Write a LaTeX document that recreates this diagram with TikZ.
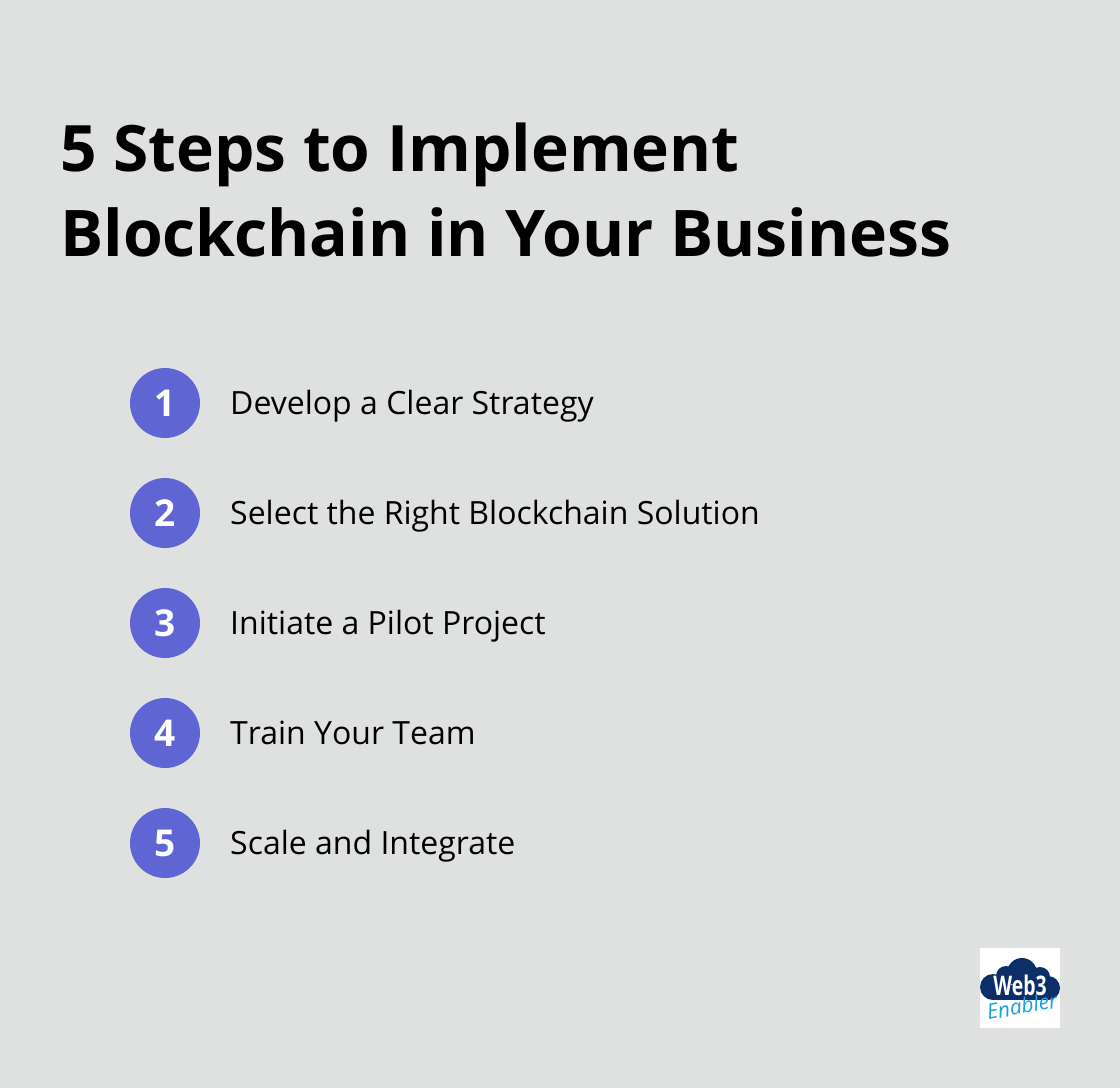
\documentclass[tikz,border=0pt]{standalone}
\usepackage{fontspec}
\setmainfont{Open Sans}
\definecolor{bgc}{HTML}{DFE1E0}
\definecolor{disc}{HTML}{5F65D3}
\definecolor{logonavy}{HTML}{0B2F66}
\definecolor{logoblue}{HTML}{1AA0DC}
\tikzset{
 px/.style={x=1pt,y=-1pt},
 title/.style={anchor=base west,inner sep=0pt,font=\fontsize{64.3}{64}\selectfont\bfseries,text=black},
 stepdisc/.style={circle,fill=disc,minimum size=70pt,inner sep=0pt,text=white,font=\fontsize{37}{37}\selectfont\bfseries},
 steptext/.style={anchor=base west,inner sep=0pt,font=\fontsize{32}{32}\selectfont,text=black},
}
\begin{document}
\begin{tikzpicture}[px]
\fill[bgc] (0,0) rectangle (1120,1088);
\useasboundingbox (0,0) rectangle (1120,1088);
\node[title,font=\fontsize{64}{64}\selectfont\bfseries] (t1) at (60,171) {5 Steps to Implement};
\node[title] (t2) at (60,256) {Blockchain in Your Business};
\foreach \n/\y/\s in {1/403/Develop a Clear Strategy,2/513/Select the Right Blockchain Solution,3/623/Initiate a Pilot Project,4/733/T\kern0pt rain Y\kern0pt our T\kern0pt eam,5/843/Scale and Integrate}{
 \node[stepdisc] (d\n) at (165,\y) {\n};
 \node[steptext] (s\n) at (230,\y+11) {\s};
}
\fill[white] (980,948) rectangle (1060,1028);
\fill[logonavy] (993,987) circle (13pt) (1006,976) circle (10pt) (1022,973) circle (15pt) (1040,977) circle (10pt) (1048,988) circle (12pt);
\fill[logonavy] (993,985) rectangle (1048,1000);
\node[inner sep=0pt,text=white,xscale=.72,font=\fontsize{27}{27}\selectfont\bfseries] (lg1) at (1020,985) {Web3};
\node[inner sep=0pt,text=logoblue,rotate=10,font=\fontsize{21}{21}\selectfont\itshape] (lg2) at (1022,1006) {Enabler};
\end{tikzpicture}
\end{document}
